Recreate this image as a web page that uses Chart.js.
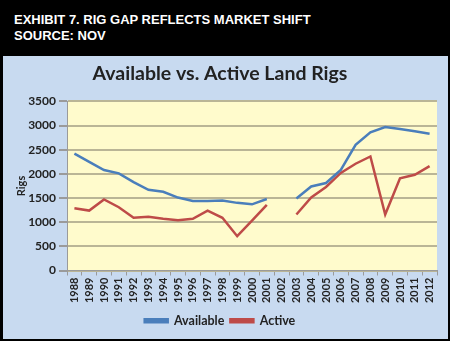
<!DOCTYPE html>
<html>
<head>
<meta charset="utf-8">
<script src="https://cdn.jsdelivr.net/npm/chart.js@4"></script>
<style>
  html, body { margin: 0; padding: 0; background: #000; }
  #wrap { position: relative; width: 450px; height: 341px; background: #000; overflow: hidden; }
  #head {
    position: absolute; left: 14px; top: 12px;
    color: #fff; font: bold 13px "Liberation Sans", Arial, sans-serif; line-height: 16px;
  }
  #panel { position: absolute; left: 3px; top: 56px; width: 445px; height: 283px; background: #c8daf0; }
  canvas { display: block; }
</style>
</head>
<body>
<div id="wrap">
  <div id="head">EXHIBIT 7. RIG GAP REFLECTS MARKET SHIFT<br>SOURCE: NOV</div>
  <div id="panel"><canvas id="c" width="445" height="283"></canvas></div>
</div>
<script>
  // ===== datos =====
  const years = [
    "1988", "1989", "1990", "1991", "1992", "1993", "1994", "1995", "1996",
    "1997", "1998", "1999", "2000", "2001", "2002", "2003", "2004", "2005",
    "2006", "2007", "2008", "2009", "2010", "2011", "2012",
  ];
  const available = [
    2420, 2250, 2080, 2010, 1830, 1670, 1630, 1510, 1440,
    1440, 1450, 1400, 1370, 1480, null, 1490, 1740, 1810,
    2080, 2600, 2860, 2970, 2930, 2880, 2830,
  ];
  const active = [
    1290, 1240, 1470, 1310, 1090, 1110, 1070, 1040, 1070,
    1240, 1090, 710, 1030, 1360, null, 1160, 1510, 1730,
    2020, 2210, 2360, 1160, 1910, 1980, 2160,
  ];
  const yTicks = [0, 500, 1000, 1500, 2000, 2500, 3000, 3500];

  const FONT = "Lato, 'Open Sans', sans-serif";

  // fondo amarillo del área de trazado
  const plotBg = {
    id: "plotBg",
    beforeDraw(chart) {
      const a = chart.chartArea, ctx = chart.ctx;
      ctx.save();
      ctx.fillStyle = "#fffbcc";
      ctx.fillRect(a.left, a.top, a.right - a.left, a.bottom - a.top);
      ctx.restore();
    },
  };

  new Chart(document.getElementById("c").getContext("2d"), {
    type: "line",
    data: {
      labels: years,
      datasets: [
        {
          label: "Available",
          data: available,
          borderColor: "#4a7ebb",
          backgroundColor: "#4a7ebb",
          borderWidth: 2.5,
          pointRadius: 0,
          spanGaps: false,
          tension: 0,
        },
        {
          label: "Active",
          data: active,
          borderColor: "#be4b48",
          backgroundColor: "#be4b48",
          borderWidth: 2.5,
          pointRadius: 0,
          spanGaps: false,
          tension: 0,
        },
      ],
    },
    options: {
      responsive: false,
      animation: false,
      layout: { padding: { left: 0, right: 11, top: 0, bottom: 2 } },
      scales: {
        x: {
          offset: true,
          grid: { offset: true, drawOnChartArea: false, drawTicks: true, tickLength: 5, color: "#9a9a9a" },
          border: { color: "#9a9a9a", width: 1 },
          ticks: {
            autoSkip: false, minRotation: 90, maxRotation: 90, padding: 2,
            color: "#222", font: { family: FONT, size: 11, weight: "bold" },
          },
          afterFit: (s) => { s.height = 38; },
        },
        y: {
          min: 0, max: 3500,
          afterBuildTicks: (s) => { s.ticks = yTicks.map((v) => ({ value: v })); },
          grid: { color: "#bab596", lineWidth: 2, tickLength: 8, tickColor: "#9a9a9a" },
          border: { color: "#9a9a9a", width: 1 },
          ticks: {
            color: "#222", padding: 3, font: { family: FONT, size: 12, weight: "bold" },
            callback: (v) => String(v),
          },
          title: {
            display: true, text: "Rigs", color: "#222", padding: { top: 12, bottom: 0 },
            font: { family: FONT, size: 11, weight: "bold" },
          },
          afterFit: (s) => { s.width = 64; },
        },
      },
      plugins: {
        title: {
          display: true,
          text: "Available vs. Active Land Rigs",
          color: "#222",
          font: { family: FONT, size: 19.5, weight: "bold" },
          padding: { top: 6, bottom: 16 },
        },
        legend: {
          position: "bottom",
          labels: {
            boxWidth: 23, boxHeight: 3, color: "#222", padding: 6,
            font: { family: FONT, size: 12.5, weight: "bold" },
          },
        },
        tooltip: { enabled: false },
      },
    },
    plugins: [plotBg],
  });
</script>
</body>
</html>
